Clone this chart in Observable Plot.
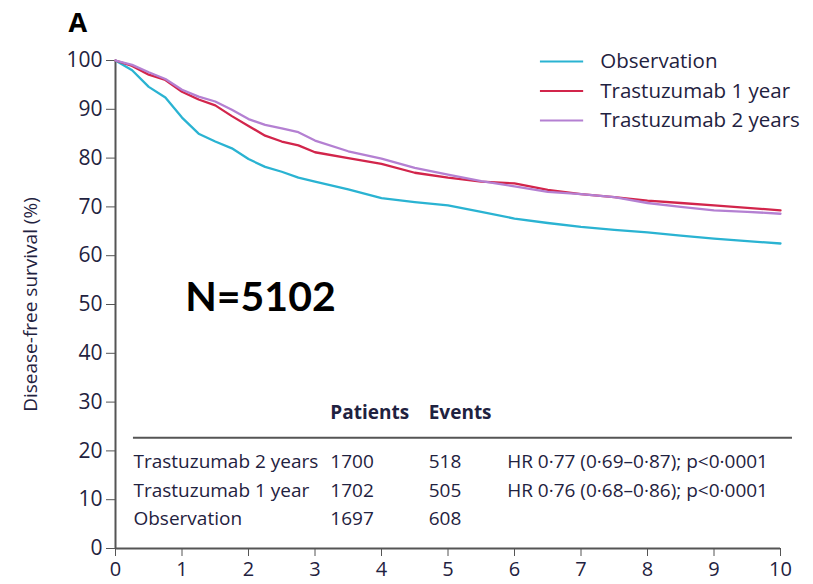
<!DOCTYPE html>
<html>
<head>
<meta charset="utf-8">
<script src="https://cdn.jsdelivr.net/npm/d3@7"></script>
<script src="https://cdn.jsdelivr.net/npm/@observablehq/plot@0.6"></script>
<style>
  body { margin: 0; background: #fff; }
  #chart svg { display: block; }
</style>
</head>
<body>
<div id="chart"></div>
<script>
// Disease-free survival (%) by years since randomisation
const years = [0, 0.25, 0.5, 0.75, 1, 1.25, 1.5, 1.75, 2, 2.25, 2.5, 2.75, 3, 3.5, 4, 4.5, 5, 5.5, 6, 6.5, 7, 7.5, 8, 8.5, 9, 9.5, 10];
const observation  = [100, 98.0, 94.6, 92.4, 88.3, 85.0, 83.4, 82.0, 79.8, 78.2, 77.2, 76.0, 75.2, 73.6, 71.8, 71.0, 70.3, 69.0, 67.6, 66.7, 65.9, 65.3, 64.8, 64.1, 63.5, 63.0, 62.5];
const trastuzumab1 = [100, 98.9, 97.1, 96.0, 93.6, 92.0, 90.8, 88.6, 86.6, 84.6, 83.4, 82.6, 81.2, 80.0, 78.8, 77.0, 76.0, 75.2, 74.8, 73.5, 72.6, 72.0, 71.3, 70.8, 70.3, 69.8, 69.3];
const trastuzumab2 = [100, 99.1, 97.6, 96.2, 94.0, 92.6, 91.6, 89.9, 88.0, 86.8, 86.1, 85.3, 83.6, 81.4, 79.9, 78.0, 76.6, 75.3, 74.2, 73.1, 72.6, 72.0, 70.8, 70.0, 69.3, 69.0, 68.6];

const seriesNames  = ["Observation", "Trastuzumab 1 year", "Trastuzumab 2 years"];
const seriesColors = ["#2ab3d2", "#d2254b", "#b480d2"];

const xTicks = [0, 1, 2, 3, 4, 5, 6, 7, 8, 9, 10];
const yTicks = [0, 10, 20, 30, 40, 50, 60, 70, 80, 90, 100];

// Summary table under the curves
const tableArms     = ["Trastuzumab 2 years", "Trastuzumab 1 year", "Observation"];
const tablePatients = [1700, 1702, 1697];
const tableEvents   = [518, 505, 608];
const tableHR       = ["HR 0·77 (0·69–0·87); p<0·0001", "HR 0·76 (0·68–0·86); p<0·0001", ""];
const tableHeaders  = ["Patients", "Events"];
const panelLabel = "A";
const totalLabel = "N=5102";

const seriesValues = [observation, trastuzumab1, trastuzumab2];
const curves = seriesNames.flatMap((name, i) =>
  years.map((t, j) => ({name, t, v: seriesValues[i][j]}))
);

// legend rows (y in % units) and table layout (x in years, y in %)
const legendRows = seriesNames.map((name, i) => ({name, y: 99.8 - i * 6.05}));
const rowY = [17.8, 11.9, 6.1];
const tableRows = tableArms.map((arm, i) => ({
  arm, patients: String(tablePatients[i]), events: String(tableEvents[i]), hr: tableHR[i], y: rowY[i]
}));
const colArm = 0.27, colPatients = 3.23, colEvents = 4.71, colHR = 5.89;

const ink = "#1f2240";
const axisGray = "#555";
const textFont = "'Open Sans', sans-serif";

const chart = Plot.plot({
  width: 813,
  height: 584,
  marginLeft: 115,
  marginRight: 33,
  marginTop: 60,
  marginBottom: 36,
  x: {domain: [0, 10]},
  y: {domain: [0, 100]},
  color: {domain: seriesNames, range: seriesColors},
  style: {fontFamily: textFont, fontSize: "19px", color: ink, background: "#fff"},
  marks: [
    Plot.axisY({ticks: yTicks, tickSize: 9, tickPadding: 4, stroke: axisGray, fill: ink, fontSize: 21, label: null}),
    Plot.axisX({ticks: xTicks, tickSize: 8, tickPadding: 5, stroke: axisGray, fill: ink, fontSize: 20, label: null}),
    Plot.ruleX([0], {stroke: axisGray, strokeWidth: 2}),
    Plot.ruleY([0], {stroke: axisGray, strokeWidth: 2}),

    Plot.line(curves, {x: "t", y: "v", z: "name", stroke: "name", strokeWidth: 2.3}),

    // legend
    Plot.ruleY(legendRows, {y: "y", x1: 6.39, x2: 7.04, stroke: "name", strokeWidth: 2}),
    Plot.text(legendRows, {x: 7.29, y: "y", text: "name", textAnchor: "start", fontSize: 20.5, fill: ink}),

    // summary table
    Plot.text([tableHeaders[0]], {x: colPatients, y: 27.7, textAnchor: "start", fontWeight: "bold", fontSize: 19, fill: ink}),
    Plot.text([tableHeaders[1]], {x: colEvents, y: 27.7, textAnchor: "start", fontWeight: "bold", fontSize: 19, fill: ink}),
    Plot.ruleY([22.7], {x1: colArm, x2: 10.18, stroke: axisGray, strokeWidth: 2}),
    Plot.text(tableRows, {x: colArm, y: "y", text: "arm", textAnchor: "start", fontSize: 19, fill: ink}),
    Plot.text(tableRows, {x: colPatients, y: "y", text: "patients", textAnchor: "start", fontSize: 19, fill: ink}),
    Plot.text(tableRows, {x: colEvents, y: "y", text: "events", textAnchor: "start", fontSize: 19, fill: ink}),
    Plot.text(tableRows, {x: colHR, y: "y", text: "hr", textAnchor: "start", fontSize: 19, fill: ink}),

    // annotations
    Plot.text([totalLabel], {x: 2.18, y: 51.4, fontFamily: "Lato, sans-serif", fontWeight: "bold", fontSize: 41, fill: "#000"}),
    Plot.text([panelLabel], {frameAnchor: "top-left", dx: -47, dy: -48, lineAnchor: "top", fontWeight: "bold", fontSize: 27, fill: "#000"}),
    Plot.text(["Disease-free survival (%)"], {frameAnchor: "left", dx: -85, rotate: -90, textAnchor: "middle", fontSize: 19, fill: ink})
  ]
});

document.getElementById("chart").append(chart);
</script>
</body>
</html>
